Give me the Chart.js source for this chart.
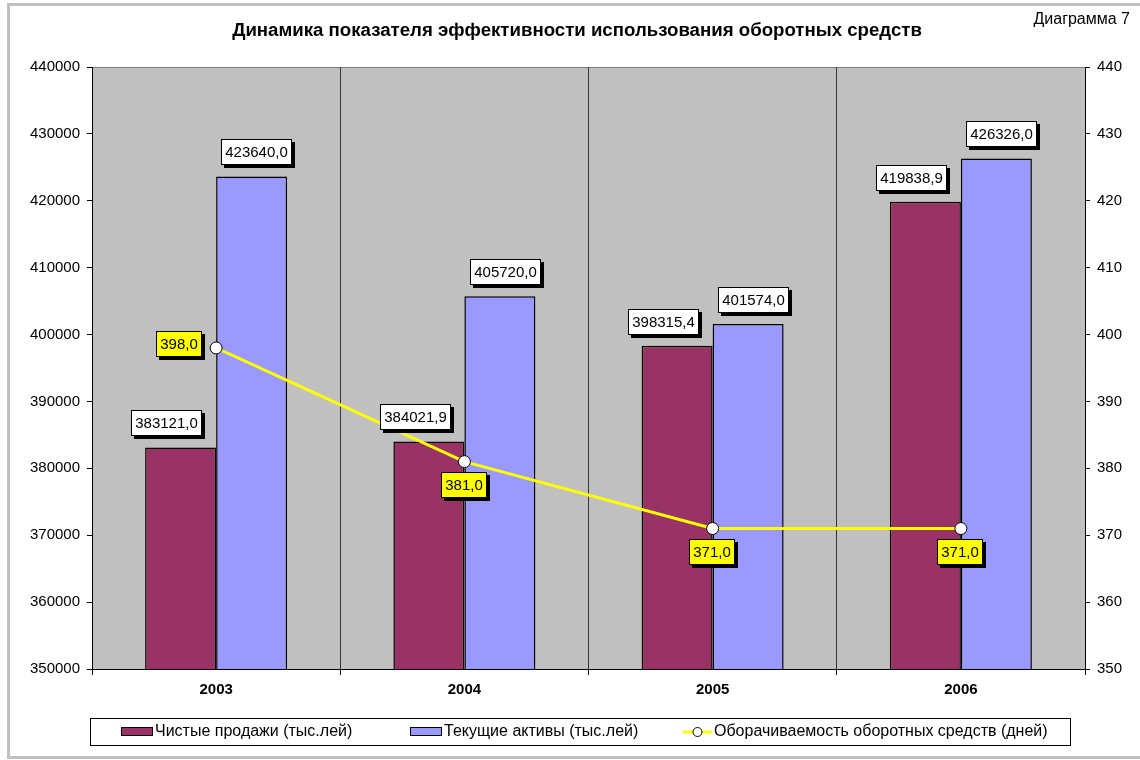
<!DOCTYPE html>
<html>
<head>
<meta charset="utf-8">
<script src="https://cdn.jsdelivr.net/npm/chart.js@4/dist/chart.umd.min.js"></script>
<style>
  html, body { margin: 0; padding: 0; background: #ffffff; }
  #wrap { width: 1140px; height: 760px; position: relative; }
</style>
</head>
<body>
<div id="wrap"><canvas id="c" width="1140" height="760"></canvas></div>
<script>
// ---- data ----
const categories = ['2003', '2004', '2005', '2006'];
const salesValues = [383121.0, 384021.9, 398315.4, 419838.9];
const assetsValues = [423640.0, 405720.0, 401574.0, 426326.0];
const turnoverDays = [398.0, 381.0, 371.0, 371.0];
const seriesNames = ['Чистые продажи (тыс.лей)', 'Текущие активы (тыс.лей)', 'Оборачиваемость оборотных средств (дней)'];
const leftAxisRange = [350000, 440000, 10000];
const rightAxisRange = [350, 440, 10];
const titleText = 'Динамика показателя эффективности использования оборотных средств';
const cornerText = 'Диаграмма 7';

const FONT = "'Liberation Sans', Arial, sans-serif";
const fmt = v => v.toFixed(1).replace('.', ',');

function drawLabelBox(ctx, text, x, y, fill, font) {
  ctx.font = font;
  const w = Math.round(ctx.measureText(text).width + 8);
  const h = 26;
  x = Math.round(x); y = Math.round(y);
  ctx.fillStyle = '#000';
  ctx.fillRect(x + 3, y + 3, w, h);
  ctx.fillStyle = fill;
  ctx.fillRect(x, y, w, h);
  ctx.strokeStyle = '#000';
  ctx.lineWidth = 1;
  ctx.strokeRect(x + 0.5, y + 0.5, w - 1, h - 1);
  ctx.fillStyle = '#000';
  ctx.textAlign = 'center';
  ctx.textBaseline = 'middle';
  ctx.fillText(text, x + w / 2, y + h / 2 + 1);
  return w;
}

const decorPlugin = {
  id: 'decor',
  beforeDraw(chart) {
    const ctx = chart.ctx;
    const a = chart.chartArea;
    ctx.save();
    ctx.fillStyle = '#ffffff';
    ctx.fillRect(0, 0, chart.width, chart.height);
    ctx.fillStyle = '#c0c0c0';
    ctx.fillRect(7, 3, chart.width - 7, 3);
    ctx.fillRect(7, 3, 3, 757 - 3);
    ctx.fillRect(7, 756, chart.width - 7, 3);
    ctx.fillStyle = '#c0c0c0';
    ctx.fillRect(a.left, a.top, a.right - a.left, a.bottom - a.top);
    ctx.strokeStyle = '#808080';
    ctx.lineWidth = 1;
    ctx.beginPath();
    ctx.moveTo(a.left, a.top + 0.5);
    ctx.lineTo(a.right, a.top + 0.5);
    ctx.stroke();
    ctx.fillStyle = '#000';
    ctx.textBaseline = 'middle';
    ctx.textAlign = 'center';
    ctx.font = 'bold 17px ' + FONT;
    const tw = ctx.measureText(titleText).width;
    const tsize = 17 * 690 / tw;
    ctx.font = 'bold ' + tsize.toFixed(2) + 'px ' + FONT;
    ctx.fillText(titleText, 577, 31);
    ctx.textAlign = 'right';
    ctx.font = '16px ' + FONT;
    ctx.fillText(cornerText, 1130, 20);
    ctx.restore();
  },
  afterDatasetsDraw(chart) {
    const ctx = chart.ctx;
    ctx.save();
    const font = '15px ' + FONT;
    [0, 1].forEach(di => {
      const meta = chart.getDatasetMeta(di);
      const data = chart.data.datasets[di].data;
      meta.data.forEach((el, i) => {
        const t = fmt(data[i]);
        ctx.font = font;
        const w = ctx.measureText(t).width + 8;
        const dx = di === 0 ? -14 : 5;
        drawLabelBox(ctx, t, el.x + dx - w / 2, el.y - 11 - 26, '#ffffff', font);
      });
    });
    const meta = chart.getDatasetMeta(2);
    const data = chart.data.datasets[2].data;
    meta.data.forEach((el, i) => {
      const t = fmt(data[i]);
      ctx.font = font;
      const w = ctx.measureText(t).width + 8;
      if (i === 0) {
        drawLabelBox(ctx, t, el.x - 15 - w, el.y - 4 - 13, '#ffff00', font);
      } else {
        drawLabelBox(ctx, t, el.x - 1 - w / 2, el.y + 10, '#ffff00', font);
      }
    });
    ctx.restore();
  },
  afterDraw(chart) {
    const ctx = chart.ctx;
    ctx.save();
    ctx.strokeStyle = '#000';
    ctx.lineWidth = 1;
    ctx.strokeRect(90.5, 718.5, 980, 27);
    ctx.font = '16px ' + FONT;
    ctx.textBaseline = 'middle';
    ctx.textAlign = 'left';
    const ds = chart.data.datasets;
    ctx.fillStyle = ds[0].backgroundColor;
    ctx.fillRect(121, 727, 32, 9);
    ctx.strokeRect(121.5, 727.5, 31, 8);
    ctx.fillStyle = '#000';
    ctx.fillText(ds[0].label, 155, 732);
    ctx.fillStyle = ds[1].backgroundColor;
    ctx.fillRect(410, 727, 32, 9);
    ctx.strokeRect(410.5, 727.5, 31, 8);
    ctx.fillStyle = '#000';
    ctx.fillText(ds[1].label, 444, 732);
    ctx.strokeStyle = ds[2].borderColor;
    ctx.lineWidth = 3;
    ctx.beginPath();
    ctx.moveTo(683, 732);
    ctx.lineTo(712, 732);
    ctx.stroke();
    ctx.fillStyle = '#fff';
    ctx.strokeStyle = '#000';
    ctx.lineWidth = 1;
    ctx.beginPath();
    ctx.arc(697.5, 732, 4.5, 0, Math.PI * 2);
    ctx.fill();
    ctx.stroke();
    ctx.fillStyle = '#000';
    ctx.fillText(ds[2].label, 714, 732);
    ctx.restore();
  }
};

new Chart(document.getElementById('c'), {
  type: 'bar',
  data: {
    labels: categories,
    datasets: [
      {
        label: seriesNames[0],
        data: salesValues,
        backgroundColor: '#993366',
        borderColor: '#000000',
        borderWidth: 1.5,
        borderSkipped: false,
        yAxisID: 'y',
        order: 2,
        categoryPercentage: 0.572,
        barPercentage: 1.0
      },
      {
        label: seriesNames[1],
        data: assetsValues,
        backgroundColor: '#9999ff',
        borderColor: '#000000',
        borderWidth: 1.5,
        borderSkipped: false,
        yAxisID: 'y',
        order: 2,
        categoryPercentage: 0.572,
        barPercentage: 1.0
      },
      {
        type: 'line',
        label: seriesNames[2],
        data: turnoverDays,
        borderColor: '#ffff00',
        borderWidth: 3,
        backgroundColor: '#ffffff',
        pointBackgroundColor: '#ffffff',
        pointBorderColor: '#000000',
        pointBorderWidth: 1,
        pointRadius: 6,
        tension: 0,
        yAxisID: 'y1',
        order: 0
      }
    ]
  },
  options: {
    responsive: false,
    animation: false,
    layout: { padding: { top: 67, left: 0, right: 0, bottom: 0 } },
    plugins: {
      legend: { display: false },
      title: { display: false },
      tooltip: { enabled: false }
    },
    scales: {
      x: {
        offset: true,
        grid: { offset: true, color: '#333333', lineWidth: 1, drawOnChartArea: true, drawTicks: true, tickLength: 6, tickColor: '#000000' },
        border: { color: '#000000', width: 1 },
        ticks: { color: '#000000', font: { family: FONT, size: 15, weight: 'bold' }, padding: 6 },
        afterFit: s => { s.height = 91; }
      },
      y: {
        position: 'left',
        min: leftAxisRange[0],
        max: leftAxisRange[1],
        grid: { drawOnChartArea: false, drawTicks: true, tickLength: 5, color: '#000000' },
        border: { color: '#000000', width: 1 },
        ticks: { stepSize: leftAxisRange[2], color: '#000000', font: { family: FONT, size: 15 }, padding: 7, callback: v => String(v) },
        afterFit: s => { s.width = 92; }
      },
      y1: {
        position: 'right',
        min: rightAxisRange[0],
        max: rightAxisRange[1],
        grid: { drawOnChartArea: false, drawTicks: true, tickLength: 5, color: '#000000' },
        border: { color: '#000000', width: 1 },
        ticks: { stepSize: rightAxisRange[2], color: '#000000', font: { family: FONT, size: 15 }, padding: 7, callback: v => String(v) },
        afterFit: s => { s.width = 55; }
      }
    }
  },
  plugins: [decorPlugin]
});
</script>
</body>
</html>
